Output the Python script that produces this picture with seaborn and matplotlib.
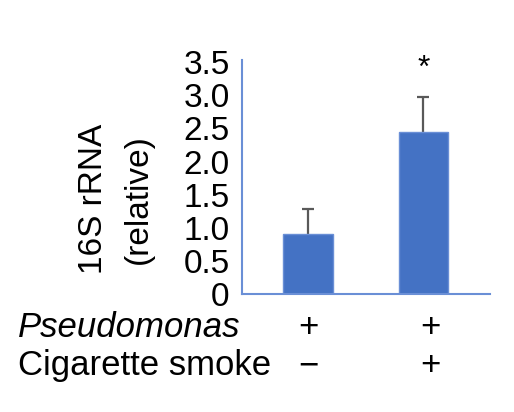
import matplotlib
matplotlib.use("Agg")
import matplotlib.pyplot as plt
import matplotlib.transforms as mtransforms
import seaborn as sns

# Données
groupes = ["PA", "PA + CS"]
valeurs = [0.91, 2.45]
erreurs = [0.38, 0.53]
pseudomonas = ["+", "+"]
fumee = ["\u2212", "+"]
yticks = [0, 0.5, 1.0, 1.5, 2.0, 2.5, 3.0, 3.5]
ytick_labels = ["0", "0.5", "1.0", "1.5", "2.0", "2.5", "3.0", "3.5"]

sns.set_style("white")
plt.rcParams["font.family"] = ["Liberation Sans", "DejaVu Sans"]
plt.rcParams["text.color"] = "black"
plt.rcParams["ytick.color"] = "black"

fig = plt.figure(figsize=(5.14, 4.12), dpi=100)
ax = fig.add_axes([0.471, 0.2864, 0.482, 0.5676])

bleu = "#4472C4"
sns.barplot(x=groupes, y=valeurs, width=0.43, color=bleu, saturation=1,
            edgecolor="#6A8FD6", linewidth=1, ax=ax)
for p in ax.patches:
    p.set_zorder(3)
# barres d'erreur derrière les barres (seule la moitié haute est visible)
ax.errorbar(range(len(groupes)), valeurs, yerr=erreurs, fmt="none",
            ecolor="#595959", elinewidth=1.6, capsize=4.5, capthick=1.6, zorder=2)
ax.text(1, 3.40, "*", ha="center", va="center", fontsize=23)

ax.set_xlim(-0.571, 1.575)
ax.set_ylim(0, 3.53)
ax.set_yticks(yticks)
ax.set_yticklabels(ytick_labels, fontsize=24)
ax.tick_params(axis="y", length=0, pad=9)
ax.set_xticks([])
ax.set_xlabel("")
ax.set_ylabel("")
for s in ["top", "right"]:
    ax.spines[s].set_visible(False)
for s in ["left", "bottom"]:
    ax.spines[s].set_color("#6A8FD6")
    ax.spines[s].set_linewidth(1.5)
    ax.spines[s].set_zorder(4)

fig.text(116 / 514, 1 - 199 / 412, "16S rRNA\n(relative)", rotation=90, ha="center", va="center",
         fontsize=24, linespacing=1.6, multialignment="center")

# lignes de conditions sous l'axe
trans = mtransforms.blended_transform_factory(ax.transData, fig.transFigure)
fig.text(0.035, 0.206, "Pseudomonas", fontsize=25, style="italic", ha="left", va="center")
fig.text(0.035, 0.112, "Cigarette smoke", fontsize=25, ha="left", va="center")
for i, (p, c) in enumerate(zip(pseudomonas, fumee)):
    xi = i + 0.06 * i
    ax.text(xi, 0.206, p, transform=trans, fontsize=25, ha="center", va="center")
    ax.text(xi, 0.112, c, transform=trans, fontsize=25, ha="center", va="center")

fig.savefig("out.png", dpi=100)
